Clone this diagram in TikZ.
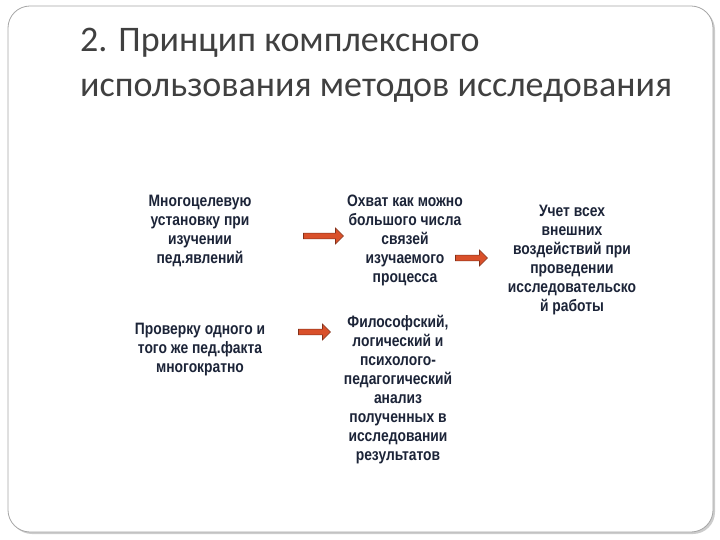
\documentclass[tikz,border=0pt]{standalone}
\usepackage{fontspec}
\setmainfont{Carlito}
\newfontfamily\cond[FakeStretch=0.84]{Liberation Sans}
\usetikzlibrary{shapes.arrows,shadows}
\definecolor{txt}{HTML}{1C2438}
\definecolor{arr}{HTML}{D9502A}
\tikzset{
 body/.style={align=center,text=txt,font=\cond\bfseries\fontsize{16.5}{19}\selectfont},
 ttl/.style={anchor=base west,inner sep=0pt,text=black!75,font=\fontsize{36}{40}\selectfont},
 barrow/.style={single arrow,draw=arr!60!black,fill=arr,line width=0.6pt,minimum height=#1,minimum width=16pt,single arrow head extend=4pt,inner sep=2pt}
}
\begin{document}
\begin{tikzpicture}[x=1pt,y=-1pt]
\useasboundingbox (0,0) rectangle (720,540);
\draw[gray!70,line width=0.8pt,rounded corners=22pt,drop shadow={shadow xshift=2pt,shadow yshift=-2pt,opacity=0.4},fill=white] (8,6) rectangle (713,532);
\node[ttl] (t1) at (80,52) {2. Принцип комплексного};
\node[ttl] (t2) at (80,97) {использования методов исследования};
\node[body] (a) at (200,231) {Многоцелевую\\установку при\\изучении\\пед.явлений};
\node[body] (b) at (200,350) {Проверку одного и\\того же пед.факта\\многократно};
\node[body] (c) at (405,240) {Охват как можно\\большого числа\\связей\\изучаемого\\процесса};
\node[body] (d) at (398,390) {Философский,\\логический и\\психолого-\\педагогический\\анализ\\полученных в\\исследовании\\результатов};
\node[body] (e) at (572,260) {Учет всех\\внешних\\воздействий при\\проведении\\исследовательско\\й работы};
\node[barrow=40pt] (ac) at (322,236) {};
\node[barrow=32pt] (ce) at (470,258) {};
\node[barrow=32pt] (bd) at (313,332) {};
\end{tikzpicture}
\end{document}
